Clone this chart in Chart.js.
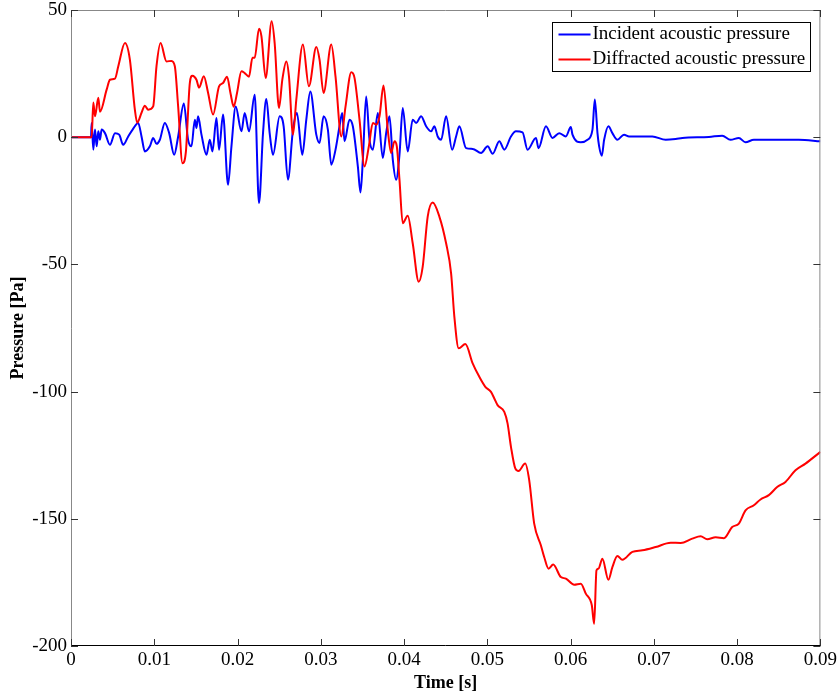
<!DOCTYPE html>
<html>
<head>
<meta charset="utf-8">
<script src="https://cdn.jsdelivr.net/npm/chart.js@4"></script>
<style>
  body { margin: 0; background: #fff; }
  #chart { display: block; }
</style>
</head>
<body>
<canvas id="chart" width="840" height="698"></canvas>
<script>
// time [s] and pressure [Pa]
const incident_time = [
  0, 0.0024, 0.00248, 0.00268, 0.00288, 0.00308, 0.00328, 0.00348, 0.00368, 0.00408,
  0.00468, 0.00528, 0.00579, 0.00627, 0.00687, 0.0074, 0.00807, 0.00847, 0.00887, 0.00947,
  0.00987, 0.01027, 0.01067, 0.01127, 0.01179, 0.01239, 0.01287, 0.01355, 0.01406, 0.01447,
  0.01487, 0.01507, 0.01526, 0.01567, 0.01627, 0.01667, 0.01699, 0.01747, 0.01778, 0.01826,
  0.01886, 0.01927, 0.01978, 0.02047, 0.02086, 0.02138, 0.02206, 0.02258, 0.02306, 0.02346,
  0.02386, 0.02426, 0.02506, 0.02554, 0.02605, 0.02666, 0.02713, 0.02778, 0.02826, 0.02874,
  0.02946, 0.02985, 0.03033, 0.03085, 0.03126, 0.03177, 0.03225, 0.03258, 0.03285, 0.03345,
  0.03385, 0.03445, 0.03477, 0.03505, 0.03545, 0.03585, 0.03625, 0.03685, 0.03745, 0.03785,
  0.03825, 0.03865, 0.03905, 0.03945, 0.03984, 0.04044, 0.04104, 0.04145, 0.04205, 0.04265,
  0.04325, 0.04364, 0.04404, 0.04445, 0.04505, 0.04577, 0.04625, 0.04664, 0.04745, 0.04824,
  0.04925, 0.05004, 0.05064, 0.05144, 0.05204, 0.05284, 0.05344, 0.05423, 0.05483, 0.05584,
  0.05615, 0.05704, 0.05783, 0.05863, 0.05943, 0.06003, 0.06023, 0.06123, 0.06203, 0.06263,
  0.06291, 0.06323, 0.06343, 0.06375, 0.06403, 0.06454, 0.06502, 0.06562, 0.06642, 0.06702,
  0.06982, 0.07142, 0.07262, 0.07342, 0.07662, 0.07821, 0.07921, 0.08021, 0.08101, 0.08201,
  0.08741, 0.09
];
const incident_pressure = [
  0, 0, 5.6, -4.9, 3, -3.6, 2.3, -1, 3, 1.6,
  -3, 1.6, 1, -3, 0.3, 3, 5.6, 0.3, -5.6, -3.6,
  -0.3, -2.6, -1, 5.6, 1.6, -6.9, 0.3, 13.2, -1, -3.6,
  6.9, 3.6, 8.2, 1, -6.9, -1, -5.6, 7.5, -4.9, 8.9,
  -18.7, -3.6, 12.1, 2.3, 9.5, 2.3, 16.7, -25.9, 1.6, 15,
  1.6, -6.9, 8.2, 4.3, -16.7, 3, 9.5, -6.9, 6.9, 18,
  1, -2.3, 8.2, 3, -10.8, -4.9, 4.3, 9.5, -1.6, 6.9,
  4.3, -11.5, -21.7, -8.9, 16, -1, -4.9, 9.5, -8.2, 1.6,
  8.2, -8.9, -16.7, -6.9, 11.5, -5.6, 6.9, 5.6, 8.2, 4.3,
  2.3, 4.3, 0.3, -1, 8.2, -4.9, 0.3, 4.3, -4.3, -4.6,
  -6.2, -3.6, -6.5, -1.6, -4.9, 0.3, 2.3, 1.9, -4.9, -0.3,
  -4.3, 4.3, -0.3, 1.6, 0.3, 4, 1, -2, -1, 3,
  14.8, 1.6, -3.6, -7.3, -1, 4.3, 1.6, -1, 1, 0.3,
  0.3, -1, -0.7, -0.3, 0.1, 0.6, -1, -0.3, -2, -1,
  -1, -1.6
];

const diffracted_time = [
  0, 0.00248, 0.00268, 0.00288, 0.00328, 0.00348, 0.00428, 0.00468, 0.00528, 0.00568,
  0.00648, 0.00707, 0.00767, 0.00795, 0.00847, 0.00887, 0.00927, 0.00987, 0.01027, 0.01075,
  0.01147, 0.01207, 0.01247, 0.01287, 0.01339, 0.01379, 0.01427, 0.01459, 0.01507, 0.01538,
  0.01595, 0.01646, 0.01706, 0.01778, 0.01826, 0.01874, 0.01915, 0.01954, 0.01994, 0.02047,
  0.02086, 0.02138, 0.02179, 0.02206, 0.02258, 0.02287, 0.02338, 0.0241, 0.02446, 0.02498,
  0.02538, 0.02586, 0.02618, 0.02666, 0.02706, 0.02785, 0.02857, 0.02946, 0.02985, 0.03033,
  0.03126, 0.03177, 0.03246, 0.03297, 0.03366, 0.03405, 0.03465, 0.03525, 0.03577, 0.03625,
  0.03665, 0.03705, 0.03753, 0.03804, 0.03845, 0.03885, 0.03913, 0.03945, 0.03984, 0.04044,
  0.04104, 0.04176, 0.04224, 0.04284, 0.04344, 0.04424, 0.04505, 0.04565, 0.04604, 0.04656,
  0.04736, 0.04824, 0.04904, 0.04976, 0.05044, 0.05084, 0.05123, 0.05204, 0.05243, 0.05284,
  0.05336, 0.05375, 0.05455, 0.05503, 0.05563, 0.05643, 0.05683, 0.05735, 0.05791, 0.05883,
  0.05943, 0.06043, 0.06123, 0.06183, 0.06255, 0.06283, 0.06311, 0.06335, 0.06382, 0.06454,
  0.06502, 0.06562, 0.06622, 0.06742, 0.06862, 0.07022, 0.07202, 0.07322, 0.07461, 0.07562,
  0.07641, 0.07742, 0.07842, 0.07941, 0.08021, 0.08101, 0.08201, 0.08281, 0.08381, 0.08481,
  0.08581, 0.08701, 0.08821, 0.09
];
const diffracted_pressure = [
  0, 0, 13.6, 8.2, 15.5, 10, 18.7, 22.6, 23, 27.9,
  37, 30.5, 10.8, 5.7, 9.6, 12.4, 10.8, 12.1, 27.9, 37,
  29.8, 30, 27.9, 12, -10.2, -6, 21.3, 24.2, 22.6, 19.5,
  24, 17.5, 8.9, 20, 21.3, 23.8, 17.4, 12, 17.4, 25.9,
  25.2, 23.8, 31.2, 31.2, 42.6, 39.7, 23.3, 45.6, 37, 11.5,
  22.6, 29.8, 23.8, 1, 14.8, 36.4, 20, 35.5, 30.5, 17.4,
  36.4, 23.8, 0.3, 12, 25.5, 23.3, 6.9, -11.5, -3.6, 5.6,
  4.9, 8.2, 20.3, 3, -6.2, -1.6, -3.6, -16.7, -33.8, -30.9,
  -41.7, -56.8, -50.9, -31.2, -25.7, -31.2, -41.7, -53.5, -70.5, -83,
  -81.3, -88.9, -94.2, -98.1, -100.1, -102.7, -105.3, -108, -112.5, -121.7,
  -130.2, -131.2, -128.3, -134.8, -151.9, -160.4, -165, -169.6, -168, -172.9,
  -173.5, -175.9, -175.5, -179.4, -184, -191.3, -170.3, -169.6, -165.7, -174,
  -169, -164.6, -166.1, -163, -162.4, -161.1, -159.4, -159.5, -157.8, -156.9,
  -158, -157.3, -157.6, -153.2, -151.9, -146.7, -144.7, -142.4, -140.7, -137.5,
  -135.5, -130.9, -128.3, -123.7
];

const x_ticks = [0, 0.01, 0.02, 0.03, 0.04, 0.05, 0.06, 0.07, 0.08, 0.09];
const y_ticks = [-200, -150, -100, -50, 0, 50];
const series_labels = ["Incident acoustic pressure", "Diffracted acoustic pressure"];

function to_points(times, values) {
  return times.map((t, i) => ({ x: t, y: values[i] }));
}

const FONT = "'Liberation Serif', 'Times New Roman', serif";

// MATLAB-style box with inward ticks on all four sides
const frame_plugin = {
  id: "frame",
  afterDatasetsDraw(chart) {
    const { ctx, chartArea: a, scales } = chart;
    const tl = 7;
    ctx.save();
    ctx.lineWidth = 1;
    ctx.strokeStyle = "#888";
    ctx.beginPath();
    ctx.moveTo(a.left + 0.5, a.bottom);
    ctx.lineTo(a.left + 0.5, a.top + 0.5);
    ctx.lineTo(a.right - 0.5, a.top + 0.5);
    ctx.lineTo(a.right - 0.5, a.bottom);
    ctx.stroke();
    ctx.strokeStyle = "#000";
    ctx.beginPath();
    ctx.moveTo(a.left, a.bottom - 0.5);
    ctx.lineTo(a.right, a.bottom - 0.5);
    ctx.stroke();
    ctx.strokeStyle = "#333";
    ctx.beginPath();
    x_ticks.forEach((v) => {
      const px = Math.round(scales.x.getPixelForValue(v)) + 0.5;
      ctx.moveTo(px, a.bottom);
      ctx.lineTo(px, a.bottom - tl);
      ctx.moveTo(px, a.top);
      ctx.lineTo(px, a.top + tl);
    });
    y_ticks.forEach((v) => {
      const py = Math.round(scales.y.getPixelForValue(v)) + 0.5;
      ctx.moveTo(a.left, py);
      ctx.lineTo(a.left + tl, py);
      ctx.moveTo(a.right, py);
      ctx.lineTo(a.right - tl, py);
    });
    ctx.stroke();

    // legend box
    const lx = 552.5, ly = 22.5, lw = 258, lh = 49;
    ctx.fillStyle = "#fff";
    ctx.fillRect(lx, ly, lw, lh);
    ctx.strokeStyle = "#000";
    ctx.strokeRect(lx, ly, lw, lh);
    ctx.font = "19px " + FONT;
    ctx.textBaseline = "middle";
    ctx.textAlign = "left";
    chart.data.datasets.forEach((ds, i) => {
      const cy = ly + 12 + i * 25;
      ctx.strokeStyle = ds.borderColor;
      ctx.lineWidth = 2;
      ctx.beginPath();
      ctx.moveTo(lx + 6, cy);
      ctx.lineTo(lx + 38, cy);
      ctx.stroke();
      ctx.fillStyle = "#000";
      ctx.fillText(ds.label, lx + 40, cy);
    });
    ctx.restore();
  },
};

const data = {
  datasets: [
    {
      label: series_labels[0],
      data: to_points(incident_time, incident_pressure),
      borderColor: "#0000ff",
      borderWidth: 2,
      pointRadius: 0,
      showLine: true,
      cubicInterpolationMode: "monotone",
      order: 1,
    },
    {
      label: series_labels[1],
      data: to_points(diffracted_time, diffracted_pressure),
      borderColor: "#ff0000",
      borderWidth: 2,
      pointRadius: 0,
      showLine: true,
      cubicInterpolationMode: "monotone",
      order: 0,
    },
  ],
};

const config = {
  type: "scatter",
  data: data,
  options: {
    animation: false,
    responsive: false,
    devicePixelRatio: 1,
    layout: { padding: { left: 0, right: 18, top: 10, bottom: 0 } },
    plugins: {
      legend: { display: false },
      tooltip: { enabled: false },
    },
    scales: {
      x: {
        type: "linear",
        min: 0,
        max: 0.09,
        afterFit: (scale) => { scale.height = 52; },
        afterBuildTicks: (scale) => { scale.ticks = x_ticks.map((v) => ({ value: v })); },
        grid: { display: false, drawTicks: false },
        border: { display: false },
        ticks: {
          padding: 3,
          color: "#000",
          font: { family: FONT, size: 19 },
          maxRotation: 0,
          callback: (v) => String(Number(v.toFixed(2))),
        },
        title: {
          display: true,
          text: "Time [s]",
          color: "#000",
          font: { family: FONT, size: 18, weight: "bold" },
          padding: { top: 0, bottom: 4 },
        },
      },
      y: {
        min: -200,
        max: 50,
        afterFit: (scale) => {
          scale.width = 71;
          scale.paddingTop = 0;
          scale.paddingBottom = 0;
        },
        afterBuildTicks: (scale) => { scale.ticks = y_ticks.map((v) => ({ value: v })); },
        grid: { display: false, drawTicks: false },
        border: { display: false },
        ticks: {
          padding: 4,
          color: "#000",
          font: { family: FONT, size: 19 },
        },
        title: {
          display: true,
          text: "Pressure [Pa]",
          color: "#000",
          font: { family: FONT, size: 18, weight: "bold" },
          padding: { top: 8, bottom: 0 },
        },
      },
    },
  },
  plugins: [frame_plugin],
};

new Chart(document.getElementById("chart"), config);
</script>
</body>
</html>
